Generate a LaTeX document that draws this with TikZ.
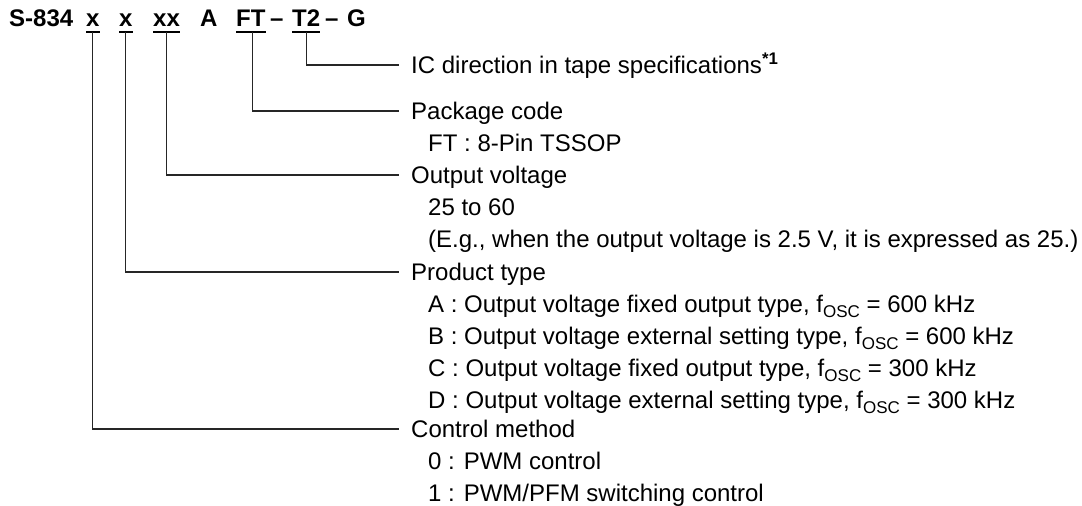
\documentclass[tikz,border=0pt]{standalone}
\usepackage{fontspec}
\setmainfont{Liberation Sans}
\newcommand\fosc{f\raisebox{-4.5pt}{\fontsize{17}{17}\selectfont OSC}}
\begin{document}
\begin{tikzpicture}[x=1pt,y=-1pt,
  hdr/.style={anchor=base west, inner sep=0pt, font=\fontsize{24}{28}\selectfont\bfseries},
  lbl/.style={anchor=west, inner sep=0pt, text height=17pt, text depth=0pt, font=\fontsize{24}{28}\selectfont},
  link/.style={line width=1.2pt, draw=black!85},
  uline/.style={line width=2pt}]
\useasboundingbox (0,0) rectangle (1082,506);
% header
\node[hdr] (h0)  at (9,27)   {S-834};
\node[hdr] (hx1) at (86,27)  {x};
\node[hdr] (hx2) at (119,27) {x};
\node[hdr] (hxx) at (153,27) {xx};
\node[hdr] (hA)  at (200,27) {A};
\node[hdr] (hFT) at (236,27) {FT};
\node[hdr] (hd1) at (270,27) {--};
\node[hdr] (hT2) at (292,27) {T2};
\node[hdr] (hd2) at (325,27) {--};
\node[hdr] (hG)  at (347,27) {G};
\foreach \n in {hx1,hx2,hxx,hFT,hT2}
  \draw[uline] ([yshift=-5pt]\n.base west) -- ([yshift=-5pt]\n.base east);
% labels
\node[lbl] (ic)  at (411,65)  {IC direction in tape specifications\textsuperscript{\bfseries *1}};
\node[lbl] (pk)  at (411,111) {Package code};
\node[lbl] (pk1) at (428,143) {FT : 8-Pin TSSOP};
\node[lbl] (ov)  at (411,175) {Output voltage};
\node[lbl] (ov1) at (428,207) {25 to 60};
\node[lbl] (ov2) at (428,239) {(E.g., when the output voltage is 2.5 V, it is expressed as 25.)};
\node[lbl] (pt)  at (411,272) {Product type};
\node[lbl] (ptA) at (428,304) {A : Output voltage fixed output type, \fosc{} = 600 kHz};
\node[lbl] (ptB) at (428,336) {B : Output voltage external setting type, \fosc{} = 600 kHz};
\node[lbl] (ptC) at (428,368) {C : Output voltage fixed output type, \fosc{} = 300 kHz};
\node[lbl] (ptD) at (428,400) {D : Output voltage external setting type, \fosc{} = 300 kHz};
\node[lbl] (cm)  at (411,429) {Control method};
\node[lbl] (cm0) at (428,461) {0 : PWM control};
\node[lbl] (cm1) at (428,493) {1 : PWM/PFM switching control};
% connectors
\draw[link] ([yshift=-5pt]hT2.base) |- ([xshift=-12pt]ic.west);
\draw[link] ([yshift=-5pt,xshift=2pt]hFT.base) |- ([xshift=-12pt]pk.west);
\draw[link] ([yshift=-5pt]hxx.base) |- ([xshift=-12pt]ov.west);
\draw[link] ([yshift=-5pt]hx2.base) |- ([xshift=-12pt]pt.west);
\draw[link] ([yshift=-5pt]hx1.base) |- ([xshift=-12pt]cm.west);
\end{tikzpicture}
\end{document}
